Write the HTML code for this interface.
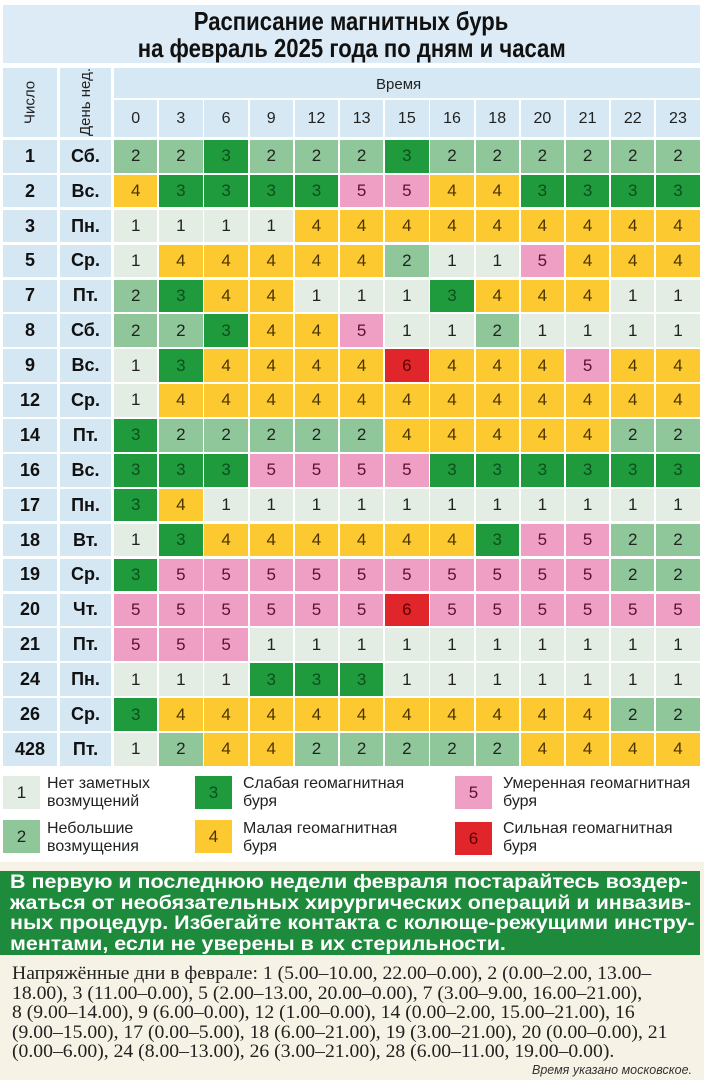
<!DOCTYPE html>
<html><head><meta charset="utf-8"><style>
*{margin:0;padding:0;box-sizing:border-box}
body{width:704px;height:1080px;position:relative;background:#fff;font-family:"Liberation Sans",sans-serif;overflow:hidden}
.abs{position:absolute}
#title{left:3px;top:5px;width:697px;height:58px;background:#dcebf5;text-align:center;font-weight:bold;font-size:26px;line-height:27px;padding-top:3px;color:#111}
#title span{display:inline-block;transform:scaleX(0.85);white-space:nowrap}
.hb{background:#d6e8f4}
.grid{position:absolute;display:grid;column-gap:1.8px;row-gap:2.4px;grid-auto-rows:32.5px}
.grid div{display:flex;align-items:center;justify-content:center;font-size:17px;color:#222}
#cells{left:114px;top:140px;grid-template-columns:repeat(13,43.4px)}
#left{left:3px;top:140px;grid-template-columns:54px 51px;column-gap:3px}
#left div{background:#d4e7f3;font-weight:bold;font-size:18px;color:#111}
.c1{background:#e3ede3}.c2{background:#8fc79a}.c3{background:#1f9a3d;color:#0c4f1c!important}.c4{background:#fdc930;color:#4a3300!important}.c5{background:#ef9fc4;color:#5a1030!important}.c6{background:#e0262b;color:#5a0000!important}
#hours{left:114px;top:100px;grid-template-columns:repeat(13,43.4px);grid-auto-rows:37px}
#hours div{background:#d6e8f4;font-size:16px}
.vt{writing-mode:vertical-rl;transform:rotate(180deg);font-size:15px;color:#222;display:flex;align-items:center;justify-content:center}
.lg{position:absolute;width:37px;height:33px;display:flex;align-items:center;justify-content:center;font-size:17px;color:#222}
.lt{position:absolute;font-size:16px;line-height:18px;color:#222}
#bottom{left:0;top:862px;width:704px;height:218px;background:#f6f2e5}
#green{left:0;top:871px;width:700px;height:84px;background:#1d8a3c;color:#fff;font-weight:bold;font-size:19px;line-height:20.5px;padding:2px 0 0 10px;white-space:nowrap}
#green span{display:inline-block;transform-origin:0 0;transform:scaleX(1.13)}
#txt{left:12px;top:964px;font-family:"Liberation Serif",serif;font-size:19px;line-height:19.5px;color:#222;white-space:nowrap}
#txt span{display:inline-block;transform-origin:0 0;transform:scaleX(1.035)}
#note{right:12px;top:1063px;font-style:italic;font-size:12.5px;color:#333}
</style></head><body>
<div id="bottom" class="abs"></div>
<div id="title" class="abs"><span>Расписание магнитных бурь</span><br><span>на февраль 2025 года по дням и часам</span></div>
<div class="abs hb vt" style="left:3px;top:68px;width:54px;height:69px">Число</div>
<div class="abs hb vt" style="left:60px;top:68px;width:51px;height:69px">День нед.</div>
<div class="abs hb" style="left:114px;top:68px;width:586px;height:30px;font-size:15px;padding:8px 0 0 262px;color:#222">Время</div>
<div id="hours" class="grid"><div>0</div><div>3</div><div>6</div><div>9</div><div>12</div><div>13</div><div>15</div><div>16</div><div>18</div><div>20</div><div>21</div><div>22</div><div>23</div></div>
<div id="left" class="grid"></div>
<div id="cells" class="grid"></div>

<div class="lg c1" style="left:3px;top:776px">1</div><div class="lt" style="left:47px;top:775px">Нет заметных<br>возмущений</div>
<div class="lg c2" style="left:3px;top:820px">2</div><div class="lt" style="left:47px;top:820px">Небольшие<br>возмущения</div>
<div class="lg c3" style="left:195px;top:776px">3</div><div class="lt" style="left:243px;top:775px">Слабая геомагнитная<br>буря</div>
<div class="lg c4" style="left:195px;top:820px">4</div><div class="lt" style="left:243px;top:820px">Малая геомагнитная<br>буря</div>
<div class="lg c5" style="left:455px;top:776px">5</div><div class="lt" style="left:503px;top:775px">Умеренная геомагнитная<br>буря</div>
<div class="lg c6" style="left:455px;top:822px">6</div><div class="lt" style="left:503px;top:820px">Сильная геомагнитная<br>буря</div>

<div id="green" class="abs"><span>В первую и последнюю недели февраля постарайтесь воздер-</span><br><span>жаться от необязательных хирургических операций и инвазив-</span><br><span>ных процедур. Избегайте контакта с колюще-режущими инстру-</span><br><span>ментами, если не уверены в их стерильности.</span></div>
<div id="txt" class="abs"><span>Напряжённые дни в феврале: 1 (5.00–10.00, 22.00–0.00), 2 (0.00–2.00, 13.00–</span><br><span>18.00), 3 (11.00–0.00), 5 (2.00–13.00, 20.00–0.00), 7 (3.00–9.00, 16.00–21.00),</span><br><span>8 (9.00–14.00), 9 (6.00–0.00), 12 (1.00–0.00), 14 (0.00–2.00, 15.00–21.00), 16</span><br><span>(9.00–15.00), 17 (0.00–5.00), 18 (6.00–21.00), 19 (3.00–21.00), 20 (0.00–0.00), 21</span><br><span>(0.00–6.00), 24 (8.00–13.00), 26 (3.00–21.00), 28 (6.00–11.00, 19.00–0.00).</span></div>
<div id="note" class="abs">Время указано московское.</div>
<script>
var rows=[["1","Сб.","2232223222222"],["2","Вс.","4333355443333"],["3","Пн.","1111444444444"],["5","Ср.","1444442115444"],["7","Пт.","2344111344411"],["8","Сб.","2234451121111"],["9","Вс.","1344446444544"],["12","Ср.","1444444444444"],["14","Пт.","3222224444422"],["16","Вс.","3335555333333"],["17","Пн.","3411111111111"],["18","Вт.","1344444435522"],["19","Ср.","3555555555522"],["20","Чт.","5555556555555"],["21","Пт.","5551111111111"],["24","Пн.","1113331111111"],["26","Ср.","3444444444422"],["428","Пт.","1244222224444"]];
var L=document.getElementById('left'),C=document.getElementById('cells'),h1='',h2='';
rows.forEach(function(r){h1+='<div>'+r[0]+'</div><div>'+r[1]+'</div>';for(var i=0;i<13;i++){var v=r[2][i];h2+='<div class="c'+v+'">'+v+'</div>';}});
L.innerHTML=h1;C.innerHTML=h2;
</script>
</body></html>
